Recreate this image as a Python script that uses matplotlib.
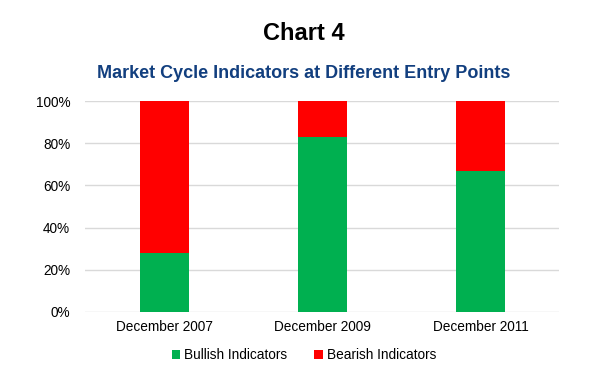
import matplotlib.pyplot as plt
from matplotlib.ticker import PercentFormatter

plt.rcParams['font.family'] = ['Liberation Sans', 'DejaVu Sans']

# Data
entry_points = ['December 2007', 'December 2009', 'December 2011']
bullish = [28, 83, 67]
bearish = [72, 17, 33]

fig = plt.figure(figsize=(6.08, 3.79), dpi=100)
ax = fig.add_axes([0.1406, 0.1768, 0.7796, 0.5567])

x = range(len(entry_points))
ax.bar(x, bullish, width=0.31, color='#00B050', label='Bullish Indicators', zorder=3)
ax.bar(x, bearish, width=0.31, bottom=bullish, color='#FF0000', label='Bearish Indicators', zorder=3)

ax.set_xlim(-0.5, 2.5)
ax.set_ylim(0, 100)
ax.set_yticks(range(0, 101, 20))
ax.yaxis.set_major_formatter(PercentFormatter(decimals=0))
ax.set_xticks(list(x))
ax.set_xticklabels(entry_points)
ax.tick_params(axis='both', length=0, labelsize=9.8, colors='black')
ax.tick_params(axis='y', pad=11)
ax.tick_params(axis='x', pad=6)
ax.grid(axis='y', color='#D9D9D9', linewidth=1, zorder=0)
for s in ax.spines.values():
    s.set_visible(False)

fig.text(0.5, 0.912, 'Chart 4', ha='center', va='center', fontsize=17, fontweight='bold')
fig.text(0.5, 0.805, 'Market Cycle Indicators at Different Entry Points', ha='center', va='center',
         fontsize=13, fontweight='bold', color='#123F7F')

fig.legend(loc='center', bbox_to_anchor=(0.5, 0.063), ncol=2, frameon=False, fontsize=9.8,
           handlelength=0.6, handleheight=0.6, handletextpad=0.3, columnspacing=2.0)

plt.savefig('out.png', dpi=100)
